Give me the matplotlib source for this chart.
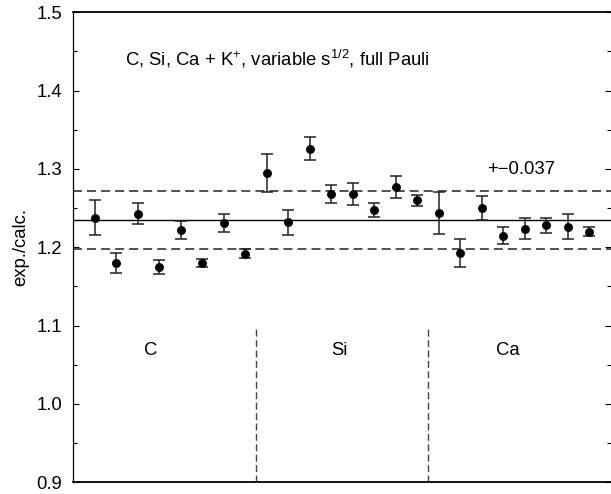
import matplotlib
matplotlib.use("Agg")
import matplotlib.pyplot as plt
from matplotlib.ticker import MultipleLocator, NullLocator

plt.rcParams['font.family'] = ['Liberation Sans', 'DejaVu Sans']
plt.rcParams['lines.scale_dashes'] = False
plt.rcParams['mathtext.fontset'] = 'custom'
plt.rcParams['mathtext.rm'] = 'Liberation Sans'
plt.rcParams['mathtext.it'] = 'Liberation Sans'

# data
index = list(range(1, 25))
ratio = [1.238, 1.180, 1.243, 1.175, 1.222, 1.180, 1.231, 1.192,
         1.295, 1.232, 1.326, 1.268, 1.268, 1.248, 1.277, 1.260,
         1.244, 1.193, 1.250, 1.215, 1.224, 1.228, 1.226, 1.220]
error = [0.022, 0.013, 0.013, 0.009, 0.012, 0.005, 0.012, 0.006,
         0.024, 0.016, 0.015, 0.011, 0.014, 0.009, 0.014, 0.007,
         0.027, 0.018, 0.015, 0.011, 0.014, 0.010, 0.016, 0.006]
mean_value = 1.235
band = 0.037
separators = [8.5, 16.5]
groups = ["C", "Si", "Ca"]
group_x = [3.6, 12.4, 20.2]
title_text = "C, Si, Ca + K$^{+}$, variable s$^{1/2}$, full Pauli"
band_label = "+\u22120.037"

FS = 13.3

fig = plt.figure(figsize=(6.11, 4.94), dpi=100)
ax = fig.add_axes([73/611, 1 - 482.3/494, 1 - 73/611, (482.3 - 12.3)/494])

ax.axhline(mean_value, color='black', lw=1.0, zorder=2)
ax.axhline(mean_value + band, color='#222222', lw=1.1, dashes=(6.5, 3.6), zorder=2)
ax.axhline(mean_value - band, color='#222222', lw=1.1, dashes=(6.5, 3.6), zorder=2)

for s in separators:
    ax.vlines(s, 0.9, 1.1, color='#444444', lw=1.0, linestyles=[(0, (5, 2.5))], zorder=2)

ax.errorbar(index, ratio, yerr=error, fmt='o', color='black', ms=5.4,
            ecolor='#222222', elinewidth=1.1, capsize=4.6, capthick=1.1, zorder=3)

ax.set_xlim(0, 25)
ax.set_ylim(0.9, 1.5)
ax.xaxis.set_major_locator(NullLocator())
ax.yaxis.set_major_locator(MultipleLocator(0.1))
ax.yaxis.set_minor_locator(MultipleLocator(0.05))
ax.yaxis.set_major_formatter(matplotlib.ticker.FormatStrFormatter('%.1f'))
ax.tick_params(axis='y', which='both', direction='in', left=True, right=True,
               labelsize=FS, pad=8, width=0.8)
ax.tick_params(axis='y', which='major', length=4)
ax.tick_params(axis='y', which='minor', length=3)
ax.spines['right'].set_visible(False)
for sp in ['top', 'bottom']:
    ax.spines[sp].set_linewidth(1.3)
ax.spines['left'].set_linewidth(0.9)

ax.set_ylabel("exp./calc.", fontsize=FS, labelpad=5)

for g, gx in zip(groups, group_x):
    ax.text(gx, 1.068, g, fontsize=FS, ha='center', va='center')

ax.text(2.4, 1.44, title_text, fontsize=FS, ha='left', va='center')
ax.text(19.25, 1.299, band_label, fontsize=FS, ha='left', va='center')

fig.savefig("out.png", dpi=100)
